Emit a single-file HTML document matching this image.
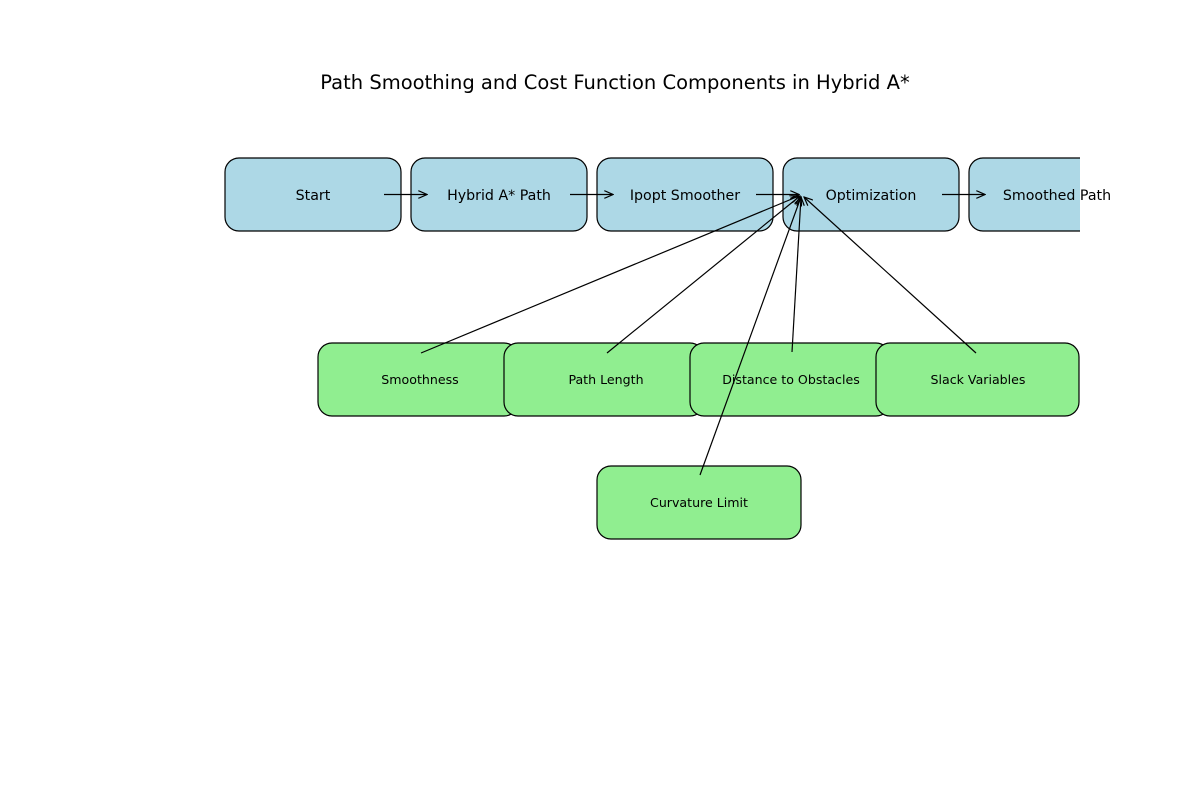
<!DOCTYPE html>
<html><head><style>body{margin:0;background:#fff}svg{display:block}</style></head><body>
<svg width="1200" height="800" xmlns="http://www.w3.org/2000/svg" font-family="DejaVu Sans, Liberation Sans, sans-serif">
<defs>
<marker id="a" markerWidth="10" markerHeight="8" refX="9" refY="4" orient="auto" markerUnits="userSpaceOnUse">
<path d="M0,0 L9,4 L0,8" fill="none" stroke="#000" stroke-width="1.2"/>
</marker>
<clipPath id="c"><rect x="0" y="0" width="1080" height="800"/></clipPath>
</defs>
<text x="615" y="89" font-size="19.5" text-anchor="middle">Path Smoothing and Cost Function Components in Hybrid A*</text>
<g clip-path="url(#c)" stroke="#000" stroke-width="1.2">
<rect x="225" y="158" width="176" height="73" rx="14" fill="#add8e6"/>
<rect x="411" y="158" width="176" height="73" rx="14" fill="#add8e6"/>
<rect x="597" y="158" width="176" height="73" rx="14" fill="#add8e6"/>
<rect x="783" y="158" width="176" height="73" rx="14" fill="#add8e6"/>
<rect x="969" y="158" width="176" height="73" rx="14" fill="#add8e6"/>
<rect x="318" y="343" width="200" height="73" rx="14" fill="#90ee90"/>
<rect x="504" y="343" width="200" height="73" rx="14" fill="#90ee90"/>
<rect x="690" y="343" width="200" height="73" rx="14" fill="#90ee90"/>
<rect x="876" y="343" width="203" height="73" rx="14" fill="#90ee90"/>
<rect x="597" y="466" width="204" height="73" rx="14" fill="#90ee90"/>
</g>
<g stroke="#000" stroke-width="1.2" marker-end="url(#a)">
<line x1="384" y1="194.5" x2="427" y2="194.5"/>
<line x1="570" y1="194.5" x2="613" y2="194.5"/>
<line x1="756" y1="194.5" x2="799" y2="194.5"/>
<line x1="942" y1="194.5" x2="985" y2="194.5"/>
<line x1="421" y1="353" x2="799" y2="196"/>
<line x1="607" y1="353" x2="800" y2="196"/>
<line x1="792" y1="352" x2="801" y2="197"/>
<line x1="976" y1="353" x2="804" y2="197"/>
<line x1="700" y1="475" x2="801" y2="197"/>
</g>
<g font-size="14.2" text-anchor="middle">
<text x="313" y="200">Start</text>
<text x="499" y="200">Hybrid A* Path</text>
<text x="685" y="200">Ipopt Smoother</text>
<text x="871" y="200">Optimization</text>
<text x="1057" y="200">Smoothed Path</text>
</g>
<g font-size="12.6" text-anchor="middle">
<text x="420" y="384">Smoothness</text>
<text x="606" y="384">Path Length</text>
<text x="791" y="384">Distance to Obstacles</text>
<text x="978" y="384">Slack Variables</text>
<text x="699" y="507">Curvature Limit</text>
</g>
</svg>
</body></html>
